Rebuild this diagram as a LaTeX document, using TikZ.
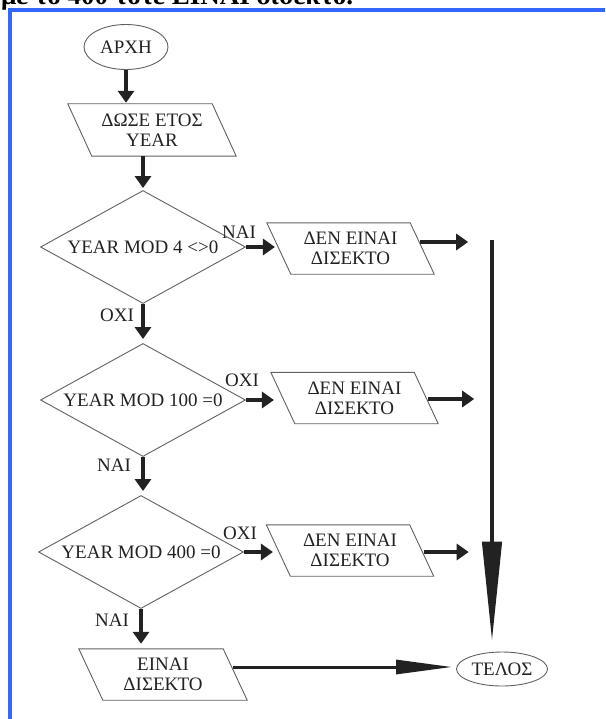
\documentclass[tikz,border=0pt]{standalone}
\usepackage{fontspec}
\setmainfont{Liberation Serif}
\usetikzlibrary{shapes.geometric,arrows.meta}
\definecolor{frameblue}{RGB}{51,102,255}
\definecolor{ink}{RGB}{34,34,34}
\tikzset{
  shp/.style={draw=black!62, line width=0.9pt},
  txt/.style={font=\fontsize{19}{20}\selectfont, text=ink, align=center, inner sep=0pt},
  term/.style={shp, txt, ellipse},
  dec/.style={shp, txt, diamond, aspect=1.8, minimum width=205pt, minimum height=113pt},
  iobox/.style={txt, minimum width=167pt, minimum height=51pt},
  arr/.style={draw=ink, line width=4pt, -{Triangle[length=12pt,width=16pt]}},
  bigv/.style={draw=ink, line width=4.5pt, -{Triangle[length=100pt,width=19pt]}},
  bigh/.style={draw=ink, line width=3pt, -{Triangle[length=56pt,width=14pt]}},
  lbl/.style={txt},
  frame/.style={draw=frameblue, line width=4pt},
}
\newcommand\pgram[1]{\draw[shp] (#1.north west) -- ([xshift=-24pt]#1.north east) -- (#1.south east) -- ([xshift=24pt]#1.south west) -- cycle;}
\begin{document}
\begin{tikzpicture}[x=1pt,y=-1pt]
\useasboundingbox (0,0) rectangle (605,719);
\fill[white] (0,0) rectangle (605,719);
\begin{scope}
\clip (0,0) rectangle (605,719);
\node[anchor=base west, inner sep=0pt, font=\bfseries] (head) at (1,5) {\resizebox{352pt}{!}{με το 400 τότε ΕΙΝΑΙ δίσεκτο.}};
\end{scope}
% frame
\draw[frame] (8,10) -- (605,10);
\draw[frame] (10,8) -- (10,719);

% nodes
\node[term, minimum width=84pt, minimum height=45pt] (start) at (126,47) {ΑΡΧΗ};
\node[iobox, minimum width=168pt, minimum height=52pt] (p0) at (152,130) {ΔΩΣΕ ΕΤΟΣ\\YEAR};
\node[dec] (d1) at (143,247) {YEAR MOD 4 <>0};
\node[iobox] (p1) at (350.5,248.5) {ΔΕΝ ΕΙΝΑΙ\\ΔΙΣΕΚΤΟ};
\node[dec] (d2) at (143,400) {YEAR MOD 100 =0};
\node[iobox] (p2) at (354.5,398) {ΔΕΝ ΕΙΝΑΙ\\ΔΙΣΕΚΤΟ};
\node[dec] (d3) at (141,552) {YEAR MOD 400 =0};
\node[iobox] (p3) at (350,550.5) {ΔΕΝ ΕΙΝΑΙ\\ΔΙΣΕΚΤΟ};
\node[iobox, minimum width=168pt] (p4) at (163,674.5) {ΕΙΝΑΙ\\ΔΙΣΕΚΤΟ};
\node[term, minimum width=91pt, minimum height=34pt] (telos) at (502,669) {ΤΕΛΟΣ};
\pgram{p0}
\pgram{p1}
\pgram{p2}
\pgram{p3}
\pgram{p4}

% labels
\node[lbl] (l1) at (239,232) {ΝΑΙ};
\node[lbl] (l2) at (117,315) {ΟΧΙ};
\node[lbl] (l3) at (242,380) {ΟΧΙ};
\node[lbl] (l4) at (114,465) {ΝΑΙ};
\node[lbl] (l5) at (240,533) {ΟΧΙ};
\node[lbl] (l6) at (112,620) {ΝΑΙ};

% connectors
\draw[arr, shorten >=1pt] (start.south) -- (start.south |- p0.north);
\draw[arr, shorten >=2pt] (p0.south -| d1.north) -- (d1.north);
\draw[arr] (d1.east) -- ++(29,0);
\draw[arr, shorten >=4pt] (d1.south) -- (d1.south |- d2.north);
\draw[arr] (d2.east) -- ++(28,0);
\draw[arr, shorten >=4pt] (d2.south) -- (d2.south |- d3.north);
\draw[arr] (d3.east) -- ++(29,0);
\draw[arr, shorten >=5pt] (d3.south) -- (d3.south |- p4.north);

\draw[arr] ([xshift=-14pt,yshift=6.5pt]p1.east) -- ++(48,0);
\draw[arr] ([xshift=-10pt,yshift=-1pt]p2.east) -- ++(46,0);
\draw[arr] ([xshift=-10pt,yshift=-1.5pt]p3.east) -- ++(45,0);

\coordinate (vt) at (492,240);
\draw[bigv, shorten >=10pt] (vt) -- (vt |- telos.north);
\coordinate (h0) at ([xshift=-14pt,yshift=7.5pt]p4.east);
\draw[bigh, shorten >=4pt] (h0) -- (h0 -| telos.west);
\end{tikzpicture}
\end{document}
